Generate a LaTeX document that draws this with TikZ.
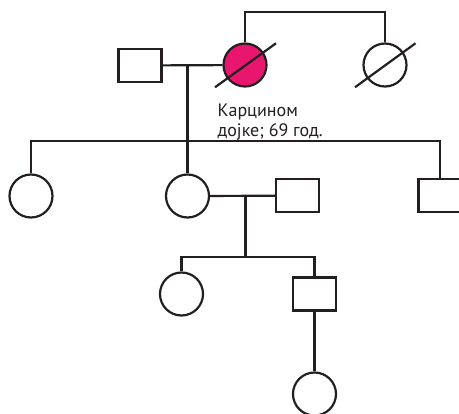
\documentclass[tikz,border=0pt]{standalone}
\usepackage{fontspec}
\newfontfamily\pedfont{PT Sans}
\usepackage{xcolor}
\usepackage{tikz}
\usetikzlibrary{positioning}

\definecolor{pedline}{RGB}{35,31,32}
\definecolor{affected}{RGB}{232,22,110}

\begin{document}
\begin{tikzpicture}[
  x=1pt, y=-1pt,
  every node/.style={draw=pedline,line width=2.2pt},
  female/.style={circle,minimum size=43pt,inner sep=0pt},
  male/.style={rectangle,minimum width=43pt,minimum height=33pt,inner sep=0pt},
  line width=2.2pt, pedline
]
  \clip (0,0) rectangle (459,414);

  % generation I
  \node[male] (gf) at (140,65.5) {};
  \node[female,fill=affected] (gm) at (245,65) {};
  \node[female] (aunt) at (385,65) {};
  \coordinate (top) at (315,12.3);
  \coordinate (m1) at (187.5,65.5);
  \coordinate (sib1) at (187.5,140.7);

  \draw (gf) -- (gm);
  \draw (gm.north) |- (top) -| (aunt.north);
  \draw ([shift={(-30,22.3)}]gm.center) -- ([shift={(31,-21.7)}]gm.center);
  \draw ([shift={(-30,22.3)}]aunt.center) -- ([shift={(30.5,-21.7)}]aunt.center);

  \node[draw=none,anchor=base west,align=left,inner sep=0pt,
        font=\pedfont\fontsize{18}{20.5}\selectfont,text=pedline]
    (note) at (216.5,136.7) {Карцином\\дојке; 69 год.};

  % generation II
  \node[female] (d1) at (31,196) {};
  \node[female] (d2) at (187.5,196) {};
  \node[male] (s1) at (440,195.5) {};
  \node[male] (hb) at (297.8,195.7) {};
  \coordinate (m2) at (245.5,196);
  \coordinate (sib2) at (245.5,256.7);

  \draw (m1) -- (d2.north);
  \draw (d1.north) |- (sib1) -| (s1.north);
  \draw (d2) -- (hb);

  % generation III
  \node[female] (g1) at (181.5,294) {};
  \node[male] (g2) at (314.5,294) {};
  \node[female] (gg) at (314.5,394) {};

  \draw (m2) -- (sib2);
  \draw (g1.north) |- (sib2) -| (g2.north);
  \draw (g2) -- (gg);
\end{tikzpicture}
\end{document}
